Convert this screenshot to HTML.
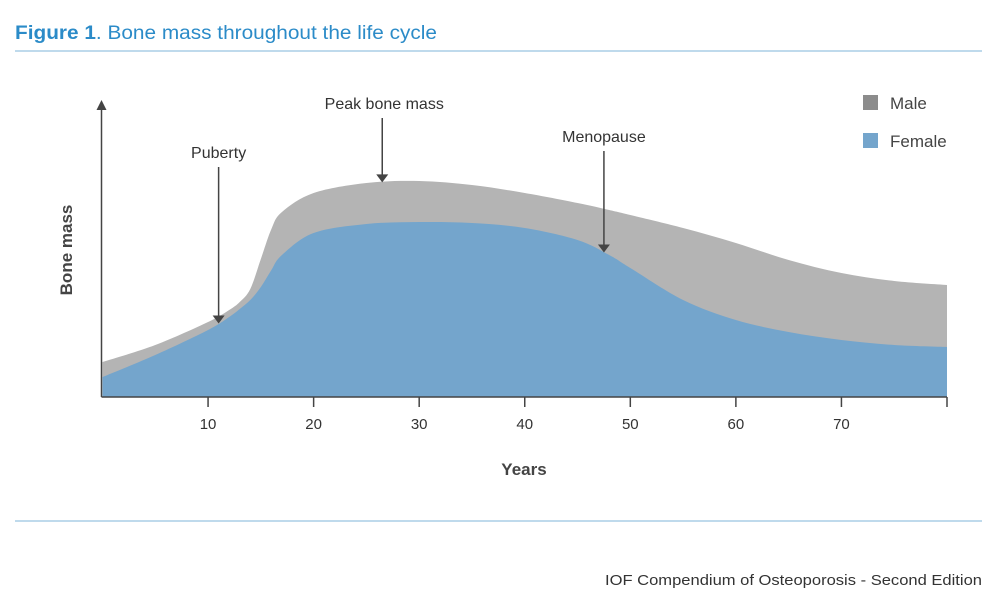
<!DOCTYPE html>
<html><head><meta charset="utf-8"><style>
body{margin:0;background:#fff;width:1000px;height:599px;overflow:hidden;font-family:"Liberation Sans",sans-serif}
svg text{font-family:"Liberation Sans",sans-serif}
</style></head><body>
<svg id="chart" width="1000" height="599" viewBox="0 0 1000 599">
<text x="15" y="39" font-size="19" fill="#2b8bc8" textLength="422" lengthAdjust="spacingAndGlyphs"><tspan font-weight="bold">Figure 1</tspan>. Bone mass throughout the life cycle</text>
<line x1="15" x2="982" y1="51" y2="51" stroke="#7fb4d8" stroke-width="1"/>
<line x1="15" x2="982" y1="521" y2="521" stroke="#7fb4d8" stroke-width="1"/>
<text x="605" y="585" font-size="15" fill="#333" textLength="377" lengthAdjust="spacingAndGlyphs">IOF Compendium of Osteoporosis - Second Edition</text>
<g id="areas"></g>
<g id="axes"></g>
<g id="annot"></g>
<g>
<rect x="863" y="95" width="15" height="15" fill="#8c8c8c"/>
<text x="890" y="109" font-size="17" fill="#444">Male</text>
<rect x="863" y="133" width="15" height="15" fill="#74a5cc"/>
<text x="890" y="147" font-size="17" fill="#444">Female</text>
</g>
<text transform="translate(72,250) rotate(-90)" font-size="17" font-weight="bold" fill="#444" text-anchor="middle">Bone mass</text>
<text x="524" y="475" font-size="17" font-weight="bold" fill="#444" text-anchor="middle">Years</text>
</svg>
<script>
const ages=[0,5,10,12,13,14,15,16,17,20,25,30,35,40,45,48,50,55,60,65,70,75,80];
const maleMass=[35,52,75,87,95,108,138,168,185,204,214,216,212,204,194,187,182,169,154,137,124,116,112];
const femaleMass=[20,42,67,80,88,97,110,127,142,164,173,175,174,169,157,142,129,97,77,65,57,52,50];
const tickLabels=[10,20,30,40,50,60,70];
const annotations=[{label:"Puberty",age:11,series:"female"},{label:"Peak bone mass",age:26.5,series:"male"},{label:"Menopause",age:47.5,series:"female"}];
const NS="http://www.w3.org/2000/svg";
const x0=102.5,x1=947,y0=397;
const xs=a=>x0+(x1-x0)*a/80;
const ys=v=>y0-v;
function interp(arr,a){for(let i=0;i<ages.length-1;i++){if(a>=ages[i]&&a<=ages[i+1]){const t=(a-ages[i])/(ages[i+1]-ages[i]);return arr[i]+(arr[i+1]-arr[i])*t;}}return arr[arr.length-1];}
function smooth(pts){let d=`M${pts[0][0]},${pts[0][1]}`;for(let i=0;i<pts.length-1;i++){const p0=pts[Math.max(i-1,0)],p1=pts[i],p2=pts[i+1],p3=pts[Math.min(i+2,pts.length-1)];d+=`C${p1[0]+(p2[0]-p0[0])/6},${p1[1]+(p2[1]-p0[1])/6} ${p2[0]-(p3[0]-p1[0])/6},${p2[1]-(p3[1]-p1[1])/6} ${p2[0]},${p2[1]}`;}return d;}
function mk(tag,attrs,parent){const e=document.createElementNS(NS,tag);for(const k in attrs)e.setAttribute(k,attrs[k]);document.getElementById(parent).appendChild(e);return e;}
function area(vals,fill,name){const pts=ages.map((a,i)=>[xs(a),ys(vals[i])]);const d=smooth(pts)+`L${xs(80)},${y0}L${xs(0)},${y0}Z`;const p=mk('path',{d:d,fill:fill},'areas');

}
area(maleMass,'#b4b4b4','male-area');
area(femaleMass,'#74a5cc','female-area');
const yl=mk('line',{x1:x0-1,x2:x0-1,y1:y0,y2:108,stroke:'#444','stroke-width':1.5},'axes');


const ya=mk('path',{d:`M${x0-6},110L${x0-1},100L${x0+4},110Z`,fill:'#444'},'axes');


const xl=mk('line',{x1:x0-1,x2:x1,y1:y0,y2:y0,stroke:'#444','stroke-width':1.5},'axes');


tickLabels.concat([80]).forEach(t=>{const l=mk('line',{x1:xs(t),x2:xs(t),y1:y0,y2:y0+10,stroke:'#444','stroke-width':1.5},'axes');

});
tickLabels.forEach(t=>{const tx=mk('text',{x:xs(t),y:y0+32,'font-size':15,fill:'#333','text-anchor':'middle'},'axes');tx.textContent=t;

});
annotations.forEach((an,i)=>{const arr=an.series==='male'?maleMass:femaleMass;const x=xs(an.age),yt=ys(interp(arr,an.age));
const ty=[158,109,142][i];
const tx=mk('text',{x:x+(i===1?2:0),y:ty,'font-size':16,fill:'#333','text-anchor':'middle'},'annot');tx.textContent=an.label;


const l=mk('line',{x1:x,x2:x,y1:ty+9,y2:yt-6,stroke:'#444','stroke-width':1.5},'annot');


const h=mk('path',{d:`M${x-6},${yt-8}L${x},${yt}L${x+6},${yt-8}Z`,fill:'#444'},'annot');

});
</script>
</body></html>
